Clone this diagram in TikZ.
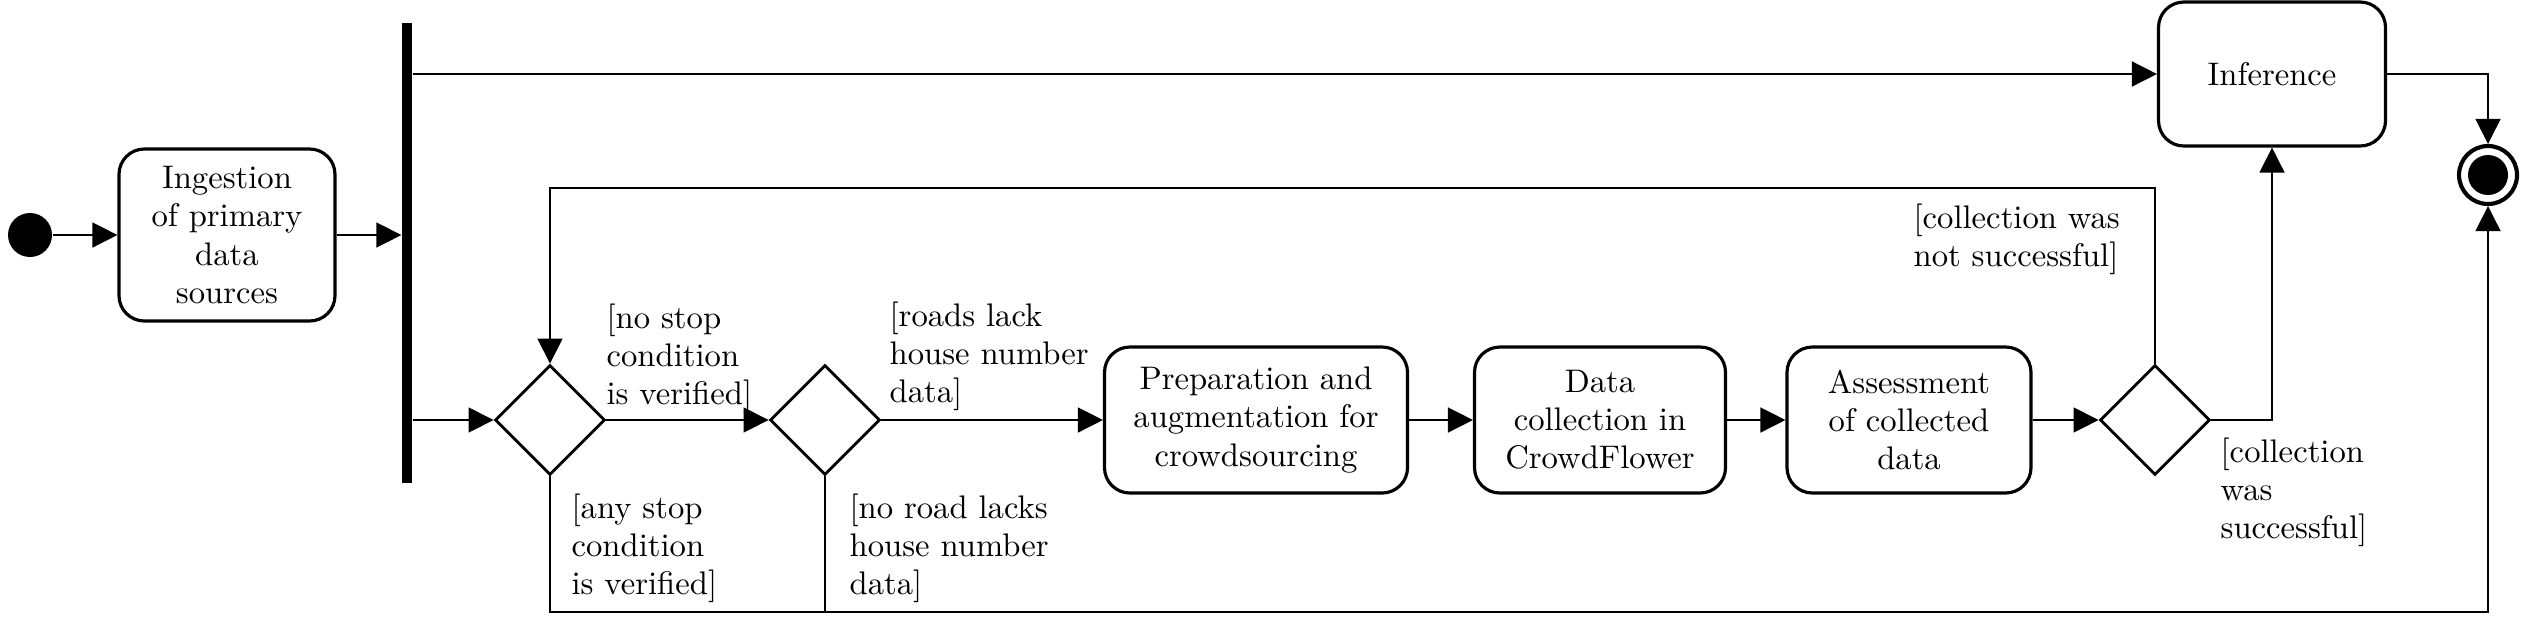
\documentclass[tikz,border=0pt]{standalone}
\usetikzlibrary{arrows.meta,shapes.geometric}
\newcommand\pxu{0.3153pt}
\begin{document}
\begin{tikzpicture}[x=0.3153pt,y=-0.3153pt,
  txt/.style={font=\fontsize{10.3}{12}\selectfont},
  act/.style={txt, draw, line width=1pt, rounded corners=8pt, align=center, inner sep=0pt},
  dec/.style={draw, diamond, line width=0.9pt, minimum width=110*\pxu, minimum height=110*\pxu, inner sep=0pt},
  flow/.style={line width=0.45pt, draw=black, -{Triangle[length=7.9pt,width=7.9pt]}},
  plain/.style={line width=0.45pt, draw=black},
  lbl/.style={txt, align=left, inner sep=0pt, anchor=north west}]
\useasboundingbox (0,0) rectangle (2531,624);

\node[circle, fill, inner sep=0pt, minimum size=44*\pxu] (start) at (30,235) {};
\node[act, minimum width=216*\pxu, minimum height=172*\pxu] (ing) at (227,235) {Ingestion\\of primary\\data\\sources};
\node[fill, inner sep=0pt, minimum width=10*\pxu, minimum height=460*\pxu] (bar) at (407,253) {};

\node[dec] (d1) at (550,420) {};
\node[dec] (d2) at (825,420) {};
\node[act, minimum width=303*\pxu, minimum height=146*\pxu] (prep) at (1256,420) {Preparation and\\augmentation for\\crowdsourcing};
\node[act, minimum width=251*\pxu, minimum height=146*\pxu] (col) at (1600,420) {Data\\collection in\\CrowdFlower};
\node[act, minimum width=244*\pxu, minimum height=146*\pxu] (ass) at (1909,420) {Assessment\\of collected\\data};
\node[dec] (d3) at (2155,420) {};
\node[act, minimum width=227*\pxu, minimum height=144*\pxu] (inf) at (2272,74) {Inference};

\node[circle, draw, line width=1.3pt, inner sep=0pt, minimum size=58*\pxu] (end) at (2488,175) {};
\node[circle, fill, inner sep=0pt, minimum size=40*\pxu] (endin) at (end) {};

\coordinate (loop) at (0,188);
\coordinate (bot) at (0,612);

\draw[flow] (start) -- (ing.west);
\draw[flow] (ing.east) -- (ing.east -| bar.west);
\draw[flow] (bar.east |- inf.west) -- (inf.west);
\draw[flow] (bar.east |- d1.west) -- (d1.west);
\draw[flow] (d1.east) -- (d2.west);
\draw[flow] (d2.east) -- (prep.west);
\draw[flow] (prep.east) -- (col.west);
\draw[flow] (col.east) -- (ass.west);
\draw[flow] (ass.east) -- (d3.west);
\draw[flow] (d3.east) -| (inf.south);
\draw[flow] (d3.north) -- (d3.north |- loop) -| (d1.north);
\draw[flow] (d1.south) -- (d1.south |- bot) -| (end.south);
\draw[plain] (d2.south) -- (d2.south |- bot);
\draw[flow] (inf.east) -| (end.north);

\node[lbl] (l1) at (606,303) {[no stop\\condition\\is verified]};
\node[lbl] (l2) at (889,301) {[roads lack\\house number\\data]};
\node[lbl] (l3) at (571,493) {[any stop\\condition\\is verified]};
\node[lbl] (l4) at (849,493) {[no road lacks\\house number\\data]};
\node[lbl] (l5) at (1913,203) {[collection was\\not successful]};
\node[lbl] (l6) at (2220,437) {[collection\\was\\successful]};
\end{tikzpicture}
\end{document}
